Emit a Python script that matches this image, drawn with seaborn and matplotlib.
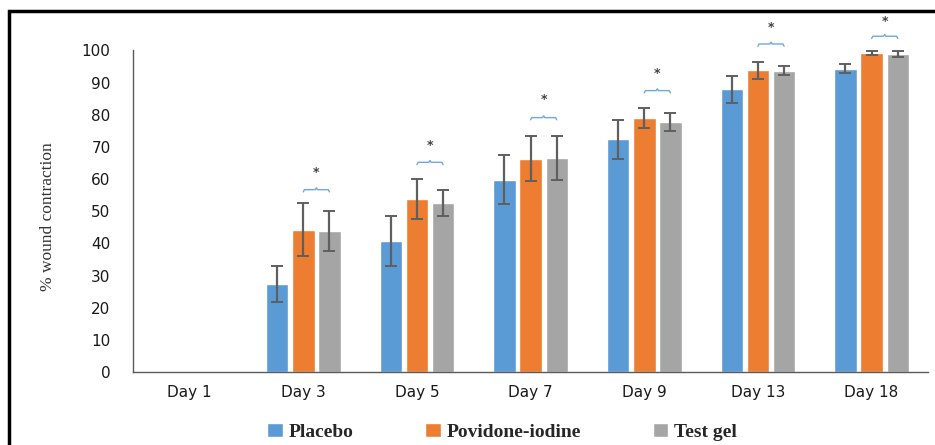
import numpy as np
import pandas as pd
import matplotlib
matplotlib.use("Agg")
import matplotlib.pyplot as plt
import seaborn as sns
from matplotlib.patches import Rectangle

days = ["Day 1", "Day 3", "Day 5", "Day 7", "Day 9", "Day 13", "Day 18"]
groups = ["Placebo", "Povidone-iodine", "Test gel"]
placebo = [0, 27.4, 40.8, 59.8, 72.3, 87.9, 94.3]
povidone = [0, 44.2, 53.8, 66.3, 79.0, 93.8, 99.1]
testgel = [0, 43.9, 52.6, 66.6, 77.7, 93.7, 98.8]
placebo_sd = [0, 5.5, 7.7, 7.7, 6.0, 4.1, 1.4]
povidone_sd = [0, 8.2, 6.2, 7.0, 3.0, 2.7, 0.6]
testgel_sd = [0, 6.2, 4.1, 6.9, 2.7, 1.3, 0.9]
brace_y = [None, 56.7, 65.2, 79.1, 87.5, 102.0, 104.4]
star_y = [None, 62.0, 70.5, 84.8, 92.8, 107.2, 109.0]
yticks = [0, 10, 20, 30, 40, 50, 60, 70, 80, 90, 100]

colors = ["#5B9BD5", "#ED7D31", "#A5A5A5"]

df = pd.DataFrame({
    "day": days * 3,
    "group": [g for g in groups for _ in days],
    "value": placebo + povidone + testgel,
})
sds = [placebo_sd, povidone_sd, testgel_sd]
means = [placebo, povidone, testgel]

sns.set_theme(style="white")
fig = plt.figure(figsize=(9.35, 4.45), dpi=100)
ax = fig.add_axes([0.142, 0.164, 0.851, 0.795])

width = 0.69
sns.barplot(data=df, x="day", y="value", hue="group", order=days,
            hue_order=groups, palette=colors, width=width, gap=0.14,
            saturation=1, errorbar=None, ax=ax, legend=True)

off = width / 3
for j in range(3):
    for i in range(len(days)):
        if means[j][i] > 0:
            ax.errorbar(i + (j - 1) * off, means[j][i], yerr=sds[j][i],
                        fmt="none", ecolor="#5f5f5f", elinewidth=1.6,
                        capsize=4, capthick=1.4, zorder=5)

# significance braces between Povidone-iodine and Test gel
for i in range(len(days)):
    if brace_y[i] is None:
        continue
    x0 = i
    x1 = i + off
    b = brace_y[i]
    d = 0.7
    xm = (x0 + x1) / 2
    ax.plot([x0, x0 + 0.01, xm - 0.01, xm, xm + 0.01, x1 - 0.01, x1],
            [b - d, b, b, b + d * 0.8, b, b, b - d],
            color="#6FA8DC", lw=1.0, clip_on=False)
    ax.text(xm, star_y[i], "*", ha="center", va="center", fontsize=9,
            color="#404040", fontweight="bold", clip_on=False)

ax.set_ylim(0, 110)
ax.set_xlim(-0.5, len(days) - 0.5)
ax.set_yticks(yticks)
ax.set_yticklabels([str(t) for t in yticks], fontsize=11, color="#1a1a1a")
ax.tick_params(axis="x", labelsize=11, colors="#1a1a1a", length=0, pad=9)
ax.tick_params(axis="y", length=0, pad=16)
ax.set_xlabel("")
ax.set_ylabel("% wound contraction", fontsize=12.5, family="Liberation Serif",
              color="#333333")
ax.yaxis.set_label_coords(-0.097, 0.438)
ax.spines["top"].set_visible(False)
ax.spines["right"].set_visible(False)
ax.spines["left"].set_bounds(0, 100)
ax.spines["left"].set_color("#5a5a5a")
ax.spines["bottom"].set_color("#5a5a5a")
ax.spines["left"].set_linewidth(1.0)
ax.spines["bottom"].set_linewidth(1.0)

handles, labels = ax.get_legend_handles_labels()
ax.legend_.remove()
fig.legend(handles, labels, loc="center", bbox_to_anchor=(0.537, 0.03),
           ncol=3, frameon=False, handlelength=0.8, handleheight=0.8,
           handletextpad=0.3, columnspacing=3.7,
           prop={"family": "Liberation Serif", "weight": "bold", "size": 14})

fig.add_artist(Rectangle((0.0095, -0.1), 1.2, 0.1 + 1 - 0.0245,
                         transform=fig.transFigure, fill=False,
                         edgecolor="black", lw=2.5))

fig.savefig("out.png", dpi=100)
